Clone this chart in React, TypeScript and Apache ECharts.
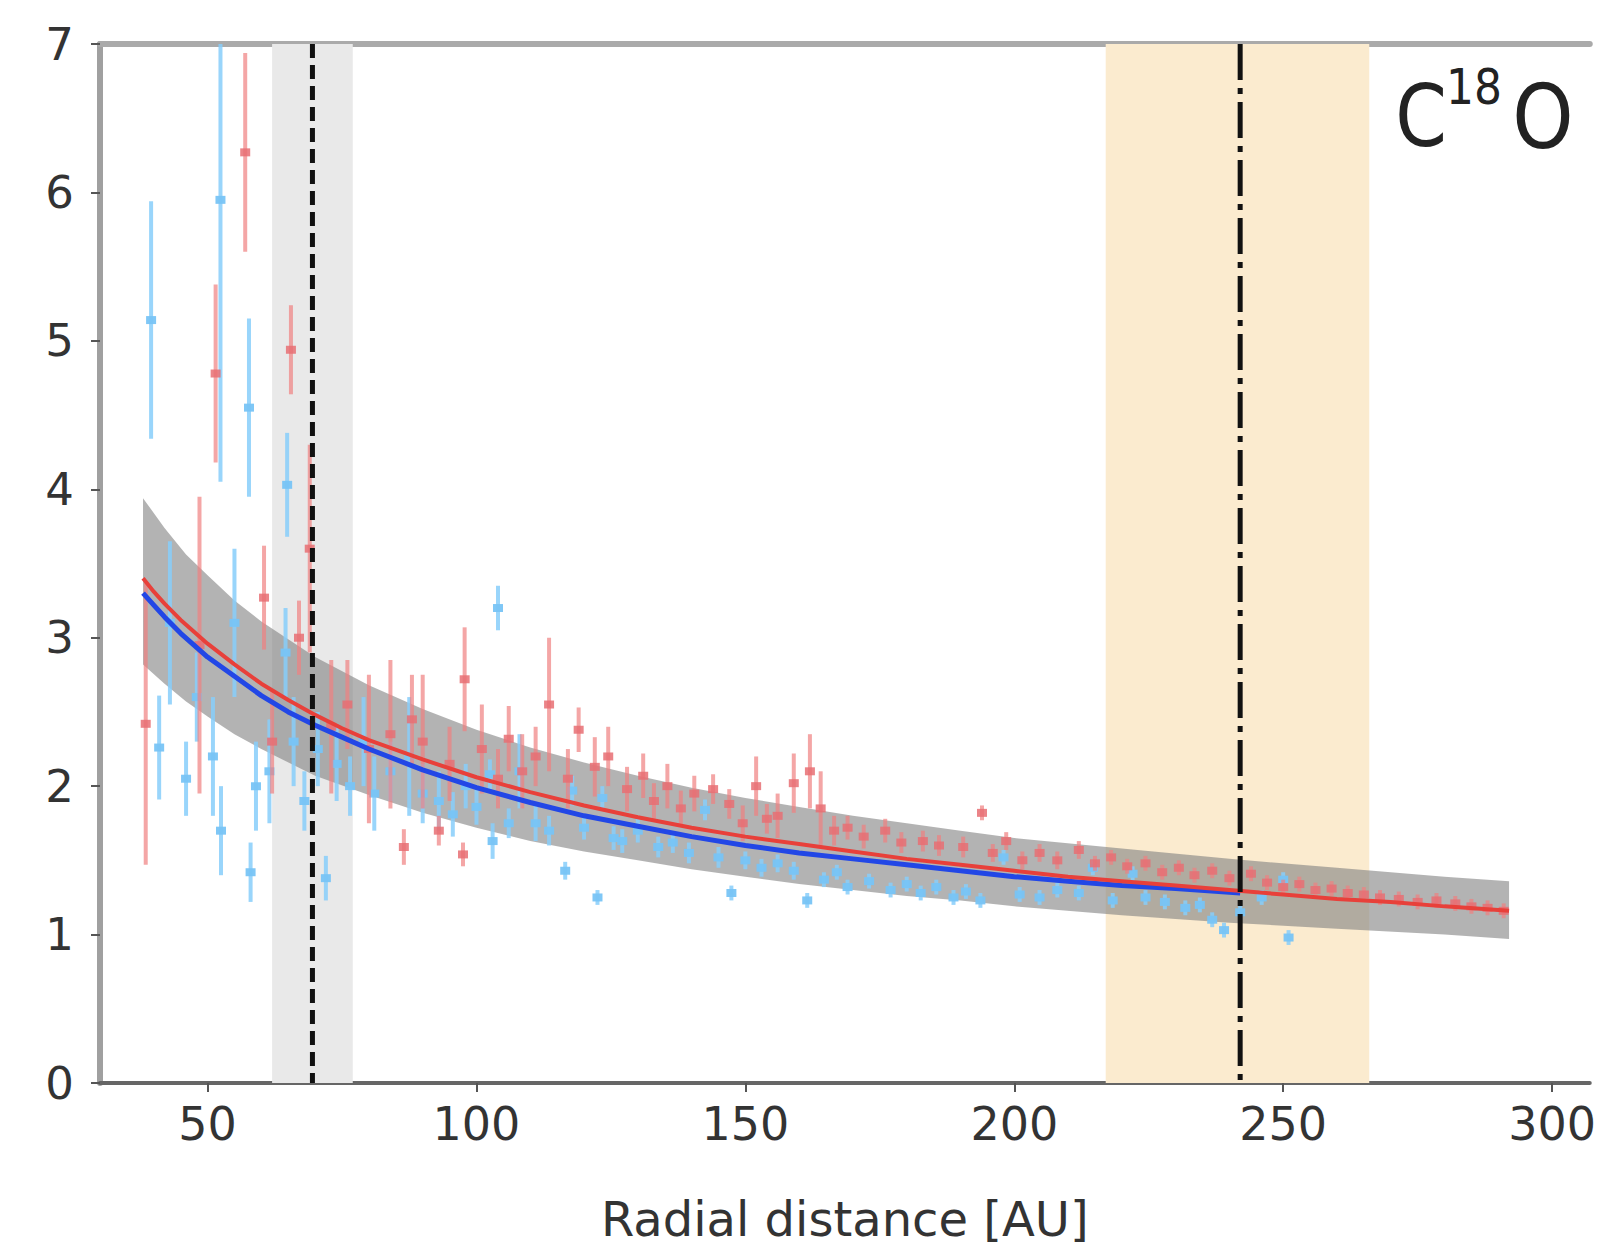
import React, { useEffect, useRef } from 'react';
import * as echarts from 'echarts';

// x tick labels (AU)
const xTicks = [50, 100, 150, 200, 250, 300];

// vertical shaded regions [from, to, colour]
const shadeFrom = [62, 217];
const shadeTo = [77, 266];
const shadeColor = ['#e9e9e9', '#fbebcf'];

// vertical reference lines
const vLineX = [69.5, 242];

// red data: radius, value, error
const redR = [38.5, 48.5, 51.5, 57, 60.5, 62, 65.5, 67, 69, 73, 76, 80, 84, 86.5, 88, 90, 93, 95, 97.5, 97.8, 101, 104, 106, 108.5, 111, 113.5, 117, 119, 122, 124.5, 128, 131, 133, 135.5, 138, 140.5, 144, 147, 149.5, 152, 154, 156, 159, 162, 164, 166.5, 169, 172, 176, 179, 183, 186, 190.5, 194, 196, 198.5, 201.5, 204.7, 208, 212, 215, 218, 221, 224.4, 227.5, 230.6, 233.5, 236.8, 240, 244, 247, 250, 253, 256, 259, 262, 265, 268, 271.5, 275, 278.5, 282, 285, 288, 291];
const redV = [2.42, 2.95, 4.78, 6.27, 3.27, 2.3, 4.94, 3.0, 3.6, 2.4, 2.55, 2.25, 2.35, 1.59, 2.45, 2.3, 1.70, 2.15, 1.54, 2.72, 2.25, 2.05, 2.32, 2.1, 2.2, 2.55, 2.05, 2.38, 2.13, 2.2, 1.98, 2.07, 1.9, 2.0, 1.85, 1.95, 1.98, 1.88, 1.75, 2.0, 1.78, 1.8, 2.02, 2.1, 1.85, 1.7, 1.72, 1.66, 1.70, 1.62, 1.63, 1.6, 1.59, 1.82, 1.55, 1.63, 1.5, 1.55, 1.5, 1.57, 1.48, 1.52, 1.46, 1.48, 1.42, 1.45, 1.4, 1.43, 1.38, 1.41, 1.35, 1.32, 1.34, 1.30, 1.31, 1.28, 1.27, 1.25, 1.24, 1.22, 1.23, 1.21, 1.19, 1.18, 1.16];
const redE = [0.95, 1.0, 0.6, 0.67, 0.35, 0.35, 0.3, 0.25, 0.7, 0.45, 0.3, 0.5, 0.5, 0.12, 0.3, 0.45, 0.1, 0.25, 0.08, 0.35, 0.3, 0.2, 0.22, 0.25, 0.2, 0.45, 0.2, 0.15, 0.2, 0.2, 0.15, 0.15, 0.12, 0.15, 0.12, 0.12, 0.1, 0.1, 0.12, 0.2, 0.1, 0.15, 0.2, 0.25, 0.25, 0.1, 0.08, 0.08, 0.08, 0.07, 0.07, 0.07, 0.07, 0.05, 0.06, 0.06, 0.06, 0.06, 0.06, 0.06, 0.05, 0.05, 0.05, 0.05, 0.05, 0.05, 0.05, 0.05, 0.05, 0.05, 0.05, 0.05, 0.05, 0.05, 0.05, 0.05, 0.05, 0.05, 0.05, 0.05, 0.05, 0.05, 0.05, 0.05, 0.05];

// blue data: radius, value, error
const blueR = [39.5, 41, 43, 46, 48, 51, 52.5, 52.4, 55, 57.7, 58, 59, 61.5, 64.5, 64.8, 66, 68, 70.5, 72, 74, 76.5, 79, 81, 84, 87.5, 90, 93, 95.6, 98, 100, 102.5, 103, 104, 106, 108, 111, 113.5, 116.5, 117.8, 120, 122.5, 123.4, 125.5, 127.1, 130, 133.8, 136.5, 139.5, 142.5, 145, 147.4, 150, 153, 156, 159, 161.5, 164.6, 167, 169, 173, 177, 180, 182.6, 185.5, 188.7, 191, 193.7, 198, 201, 204.7, 208, 212, 214.6, 218.3, 222, 224.4, 228, 231.8, 234.5, 236.8, 239, 242, 246, 250, 251];
const blueV = [5.14, 2.26, 3.1, 2.05, 2.6, 2.2, 1.7, 5.95, 3.1, 4.55, 1.42, 2.0, 2.1, 2.9, 4.03, 2.3, 1.9, 2.25, 1.38, 2.15, 2.0, 2.3, 1.95, 2.1, 2.2, 1.95, 1.9, 1.81, 2.0, 1.86, 2.08, 1.63, 3.2, 1.75, 2.1, 1.75, 1.70, 1.43, 1.97, 1.72, 1.25, 1.92, 1.65, 1.63, 1.7, 1.59, 1.62, 1.55, 1.84, 1.52, 1.28, 1.5, 1.45, 1.48, 1.43, 1.23, 1.37, 1.42, 1.32, 1.36, 1.30, 1.34, 1.28, 1.32, 1.25, 1.29, 1.23, 1.52, 1.27, 1.25, 1.3, 1.28, 1.45, 1.23, 1.41, 1.25, 1.22, 1.18, 1.2, 1.10, 1.03, 1.15, 1.25, 1.37, 0.98];
const blueE = [0.8, 0.35, 0.55, 0.25, 0.3, 0.4, 0.3, 1.9, 0.5, 0.6, 0.2, 0.3, 0.35, 0.3, 0.35, 0.3, 0.2, 0.25, 0.15, 0.25, 0.2, 0.3, 0.25, 0.2, 0.4, 0.2, 0.2, 0.15, 0.15, 0.12, 0.1, 0.12, 0.15, 0.1, 0.25, 0.12, 0.1, 0.06, 0.1, 0.08, 0.05, 0.08, 0.08, 0.08, 0.08, 0.07, 0.07, 0.07, 0.07, 0.07, 0.05, 0.06, 0.06, 0.06, 0.06, 0.05, 0.05, 0.05, 0.05, 0.05, 0.05, 0.05, 0.05, 0.05, 0.05, 0.05, 0.05, 0.05, 0.05, 0.05, 0.05, 0.05, 0.05, 0.05, 0.05, 0.05, 0.05, 0.05, 0.05, 0.05, 0.05, 0.05, 0.05, 0.05, 0.05];

// fitted profiles
const redFitR = [38, 40, 42, 45, 50, 55, 60, 65, 70, 75, 80, 90, 100, 110, 120, 130, 140, 150, 160, 170, 180, 190, 200, 210, 220, 230, 240, 250, 260, 270, 280, 292];
const redFitV = [3.40, 3.31, 3.23, 3.12, 2.96, 2.82, 2.69, 2.58, 2.48, 2.39, 2.31, 2.18, 2.06, 1.96, 1.87, 1.79, 1.72, 1.66, 1.61, 1.56, 1.51, 1.47, 1.43, 1.39, 1.36, 1.33, 1.30, 1.27, 1.24, 1.22, 1.19, 1.16];
const blueFitR = [38, 40, 42, 45, 50, 55, 60, 65, 70, 75, 80, 90, 100, 110, 120, 130, 140, 150, 160, 170, 180, 190, 200, 210, 220, 230, 242];
const blueFitV = [3.30, 3.22, 3.14, 3.03, 2.87, 2.74, 2.61, 2.50, 2.41, 2.33, 2.25, 2.11, 1.99, 1.89, 1.80, 1.73, 1.66, 1.60, 1.55, 1.51, 1.47, 1.43, 1.39, 1.36, 1.33, 1.31, 1.28];

// uncertainty envelope
const bandR = [38, 42, 46, 50, 55, 60, 70, 80, 90, 100, 110, 120, 130, 140, 150, 160, 170, 180, 190, 200, 220, 240, 260, 280, 292];
const bandUpper = [3.94, 3.74, 3.56, 3.42, 3.25, 3.11, 2.87, 2.68, 2.52, 2.38, 2.26, 2.16, 2.07, 1.99, 1.92, 1.86, 1.80, 1.75, 1.70, 1.65, 1.58, 1.51, 1.45, 1.39, 1.36];
const bandLower = [2.82, 2.69, 2.57, 2.47, 2.35, 2.25, 2.07, 1.94, 1.82, 1.72, 1.63, 1.56, 1.50, 1.44, 1.39, 1.34, 1.30, 1.26, 1.23, 1.19, 1.13, 1.08, 1.04, 1.00, 0.97];

const FONT = 'DejaVu Sans';

function errRender(stroke: string, fill: string) {
  return (params: any, api: any) => {
    const x = api.value(0);
    const y = api.value(1);
    const e = api.value(2);
    const top = api.coord([x, y + e]);
    const bot = api.coord([x, y - e]);
    const c = api.coord([x, y]);
    return {
      type: 'group',
      children: [
        { type: 'line', shape: { x1: top[0], y1: top[1], x2: bot[0], y2: bot[1] }, style: { stroke, lineWidth: 4 } },
        { type: 'rect', shape: { x: c[0] - 5, y: c[1] - 4, width: 10, height: 8 }, style: { fill } },
      ],
    };
  };
}

export default function App() {
  const ref = useRef<HTMLDivElement>(null);
  useEffect(() => {
    if (!ref.current) return;
    const chart = echarts.init(ref.current, null, { renderer: 'svg' });
    const redData = redR.map((r, i) => [r, redV[i], redE[i]]);
    const blueData = blueR.map((r, i) => [r, blueV[i], blueE[i]]);
    const shadeData = shadeFrom.map((f, i) => [f, shadeTo[i], i]);
    const option: any = {
      animation: false,
      backgroundColor: '#ffffff',
      grid: { left: 100, right: 0, top: 44, bottom: 168 },
      xAxis: [
        {
          type: 'value', min: 30, max: 307, position: 'bottom',
          axisLine: { onZero: false, lineStyle: { color: '#666', width: 4 } },
          axisTick: { show: true, customValues: xTicks, length: 9, lineStyle: { color: '#555', width: 2 } },
          axisLabel: { customValues: xTicks, fontSize: 46, color: '#333', fontFamily: FONT, margin: 18 },
          splitLine: { show: false },
          name: 'Radial distance [AU]', nameLocation: 'middle', nameGap: 112,
          nameTextStyle: { fontSize: 48, color: '#333', fontFamily: FONT },
        },
        {
          type: 'value', min: 30, max: 307, position: 'top',
          axisLine: { onZero: false, lineStyle: { color: '#aaa', width: 6 } },
          axisTick: { show: false }, axisLabel: { show: false }, splitLine: { show: false },
        },
      ],
      yAxis: {
        type: 'value', min: 0, max: 7, interval: 1,
        axisLine: { show: true, onZero: false, lineStyle: { color: '#a0a0a0', width: 6 } },
        axisTick: { show: true, length: 9, lineStyle: { color: '#555', width: 2 } },
        axisLabel: { fontSize: 45, color: '#333', fontFamily: FONT, margin: 26 },
        splitLine: { show: false },
      },
      graphic: [
        { type: 'text', x: 1421, y: 117, scaleY: 1.15, z: 100, style: { text: 'C', fontSize: 74, fontFamily: FONT, fill: '#222', textAlign: 'center', textVerticalAlign: 'middle' } },
        { type: 'text', x: 1474, y: 86, scaleY: 1.15, z: 100, style: { text: '18', fontSize: 44, fontFamily: FONT, fill: '#222', textAlign: 'center', textVerticalAlign: 'middle' } },
        { type: 'text', x: 1543, y: 117, scaleY: 1.15, z: 100, style: { text: 'O', fontSize: 78, fontFamily: FONT, fill: '#222', textAlign: 'center', textVerticalAlign: 'middle' } },
      ],
      series: [
        {
          type: 'custom', name: 'shade', z: 1, clip: true,
          data: shadeData,
          renderItem: (params: any, api: any) => {
            const a = api.coord([api.value(0), 7]);
            const b = api.coord([api.value(1), 0]);
            return { type: 'rect', shape: { x: a[0], y: a[1], width: b[0] - a[0], height: b[1] - a[1] }, style: { fill: shadeColor[api.value(2)] } };
          },
        },
        {
          type: 'custom', name: 'band', z: 2, clip: true,
          data: [[bandR[0], bandUpper[0]]],
          renderItem: (params: any, api: any) => {
            const pts: number[][] = [];
            for (let i = 0; i < bandR.length; i++) pts.push(api.coord([bandR[i], bandUpper[i]]));
            for (let i = bandR.length - 1; i >= 0; i--) pts.push(api.coord([bandR[i], bandLower[i]]));
            return { type: 'polygon', shape: { points: pts }, style: { fill: 'rgba(128,128,128,0.6)' } };
          },
        },
        {
          type: 'custom', name: 'blue', z: 3, clip: true,
          data: blueData,
          renderItem: errRender('rgba(135,206,250,0.85)', 'rgba(120,196,245,0.95)'),
        },
        {
          type: 'custom', name: 'red', z: 3, clip: true,
          data: redData,
          renderItem: errRender('rgba(240,128,128,0.7)', 'rgba(232,110,115,0.85)'),
        },
        {
          type: 'line', name: 'blueFit', z: 4, showSymbol: false, smooth: false,
          data: blueFitR.map((r, i) => [r, blueFitV[i]]),
          lineStyle: { color: '#2247e6', width: 5 },
        },
        {
          type: 'line', name: 'redFit', z: 5, showSymbol: false, smooth: false,
          data: redFitR.map((r, i) => [r, redFitV[i]]),
          lineStyle: { color: '#e8403a', width: 4 },
        },
        {
          type: 'custom', name: 'vlines', z: 6, clip: true,
          data: vLineX.map((x, i) => [x, i]),
          renderItem: (params: any, api: any) => {
            const a = api.coord([api.value(0), 7]);
            const b = api.coord([api.value(0), 0]);
            const dash = api.value(1) === 0 ? [14, 7] : [36, 8, 6, 8];
            return { type: 'line', shape: { x1: a[0], y1: a[1], x2: b[0], y2: b[1] }, style: { stroke: '#111', lineWidth: 5, lineDash: dash } };
          },
        },
      ],
    };
    chart.setOption(option);
    return () => chart.dispose();
  }, []);
  return <div ref={ref} style={{ position: 'fixed', left: 0, top: 0, width: 1599, height: 1251 }} />;
}
